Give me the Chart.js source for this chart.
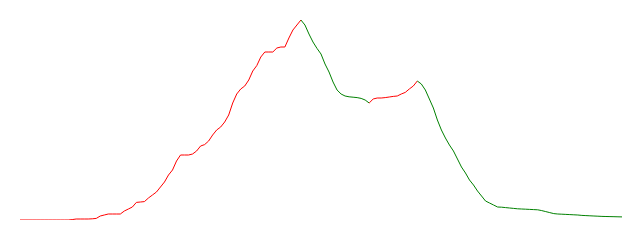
<!DOCTYPE html>
<html>
<head>
<meta charset="utf-8">
<script src="https://cdn.jsdelivr.net/npm/chart.js@4"></script>
<style>
  html, body { margin: 0; padding: 0; background: #fff; }
  #wrap { width: 640px; height: 240px; }
</style>
</head>
<body>
<div id="wrap"><canvas id="trendChart"></canvas></div>
<script>
const values = [
  0, 0, 0, 0, 0, 0, 0, 0, 0, 0,
  0, 0, 0, 2, 5, 5, 5, 5, 6, 8,
  20, 25, 30, 30, 30, 30, 45, 55, 65, 88,
  90, 92, 110, 125, 140, 165, 190, 225, 250, 295,
  325, 325, 325, 330, 345, 370, 377, 395, 425, 450,
  465, 490, 525, 585, 630, 655, 670, 700, 745, 772,
  815, 840, 840, 840, 860, 865, 865, 910, 950, 975,
  1000, 975, 930, 890, 858, 830, 780, 740, 690, 650,
  630, 620, 616, 614, 612, 608, 600, 585, 605, 610,
  610, 612, 615, 618, 620, 630, 638, 655, 670, 695,
  680, 650, 605, 560, 500, 450, 410, 375, 345, 305,
  265, 235, 200, 175, 145, 120, 95, 85, 75, 65,
  64, 62, 60, 58, 56, 55, 54, 53, 52, 51,
  47, 42, 37, 32, 30, 29, 28, 27, 26, 25,
  23, 22, 21, 20, 19, 18, 17.5, 17, 16.5, 16,
  15.5
];
const labels = values.map((v, i) => String(i + 1));

const upColor = "red";
const downColor = "green";

const ctx = document.getElementById("trendChart").getContext("2d");
new Chart(ctx, {
  type: "line",
  data: {
    labels: labels,
    datasets: [
      {
        data: values,
        borderWidth: 1,
        pointRadius: 0,
        tension: 0,
        segment: {
          borderColor: (c) => (c.p0.parsed.y > c.p1.parsed.y ? downColor : upColor),
        },
      },
    ],
  },
  options: {
    responsive: true,
    maintainAspectRatio: false,
    animation: false,
    layout: { padding: { left: 20, right: 18, top: 20, bottom: 20 } },
    plugins: { legend: { display: false }, tooltip: { enabled: false } },
    scales: {
      x: { display: false },
      y: { display: false, min: 0, max: 1000 },
    },
  },
});
</script>
</body>
</html>
